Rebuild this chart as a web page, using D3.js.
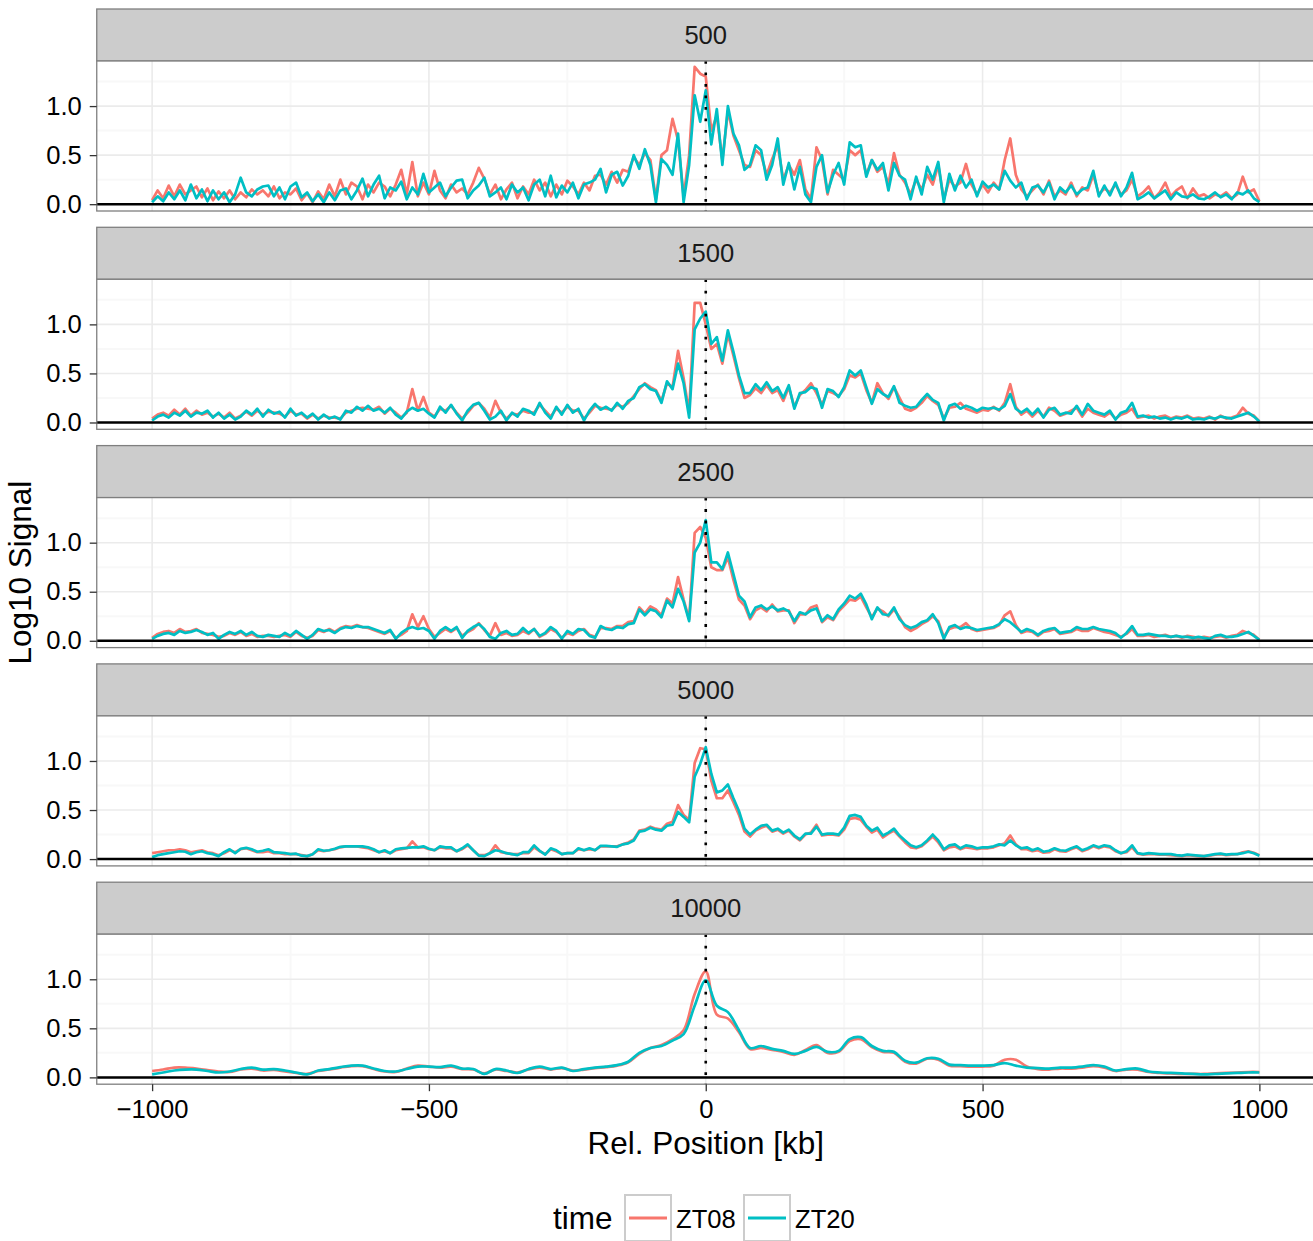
<!DOCTYPE html>
<html>
<head>
<meta charset="utf-8">
<script src="https://cdn.jsdelivr.net/npm/d3@7"></script>
<style>
  body { margin: 0; background: #fff; }
  text { font-family: "Liberation Sans", Arial, sans-serif; }
</style>
</head>
<body>
<div id="chart"></div>
<script>
// facet labels (window size) and bin step of each facet, kb
const facets = ["500", "1500", "2500", "5000", "10000"];
const binStep = [10, 10, 10, 10, 20];
const seriesNames = ["ZT08", "ZT20"];
const xTicks = [-1000, -500, 0, 500, 1000];
const yTicks = [0, 0.5, 1.0];

// log10 signal, 10 kb bins from -1000 to 1000
const sig500_ZT08 = [
  .04,.14,.06,.19,.08,.20,.10,.14,.18,.07,
  .16,.04,.13,.06,.14,.05,.12,.07,.15,.10,
  .14,.08,.18,.06,.12,.10,.16,.04,.11,.02,
  .13,.05,.20,.08,.25,.10,.22,.18,.05,.20,
  .12,.22,.18,.08,.20,.35,.10,.43,.08,.22,
  .10,.34,.14,.06,.20,.12,.16,.10,.22,.37,
  .26,.10,.20,.05,.15,.22,.06,.18,.10,.25,
  .14,.22,.08,.20,.10,.24,.18,.10,.22,.14,
  .29,.30,.20,.33,.22,.35,.33,.48,.40,.52,
  .45,.05,.50,.55,.87,.65,.08,.50,1.40,1.33,
  1.30,.75,.90,.45,.95,.70,.55,.40,.38,.55,
  .50,.30,.46,.60,.25,.40,.30,.45,.15,.05,
  .58,.45,.10,.35,.30,.25,.55,.50,.55,.30,
  .45,.33,.38,.20,.52,.30,.22,.10,.25,.15,
  .30,.20,.40,.05,.25,.18,.22,.41,.20,.10,
  .20,.12,.22,.15,.45,.67,.30,.15,.08,.14,
  .20,.10,.24,.08,.14,.10,.22,.08,.17,.14,
  .30,.10,.16,.12,.20,.10,.14,.25,.08,.12,
  .18,.06,.12,.22,.08,.14,.18,.06,.16,.08,
  .10,.06,.10,.08,.12,.06,.10,.28,.12,.15,
  .03
];
const sig500_ZT20 = [
  .02,.08,.03,.12,.05,.14,.04,.20,.06,.15,
  .03,.14,.05,.12,.02,.10,.27,.12,.08,.15,
  .18,.19,.08,.17,.05,.18,.22,.07,.12,.03,
  .10,.02,.12,.04,.14,.16,.05,.14,.26,.08,
  .20,.29,.06,.17,.14,.23,.05,.17,.10,.31,
  .12,.17,.22,.08,.17,.24,.25,.06,.14,.19,
  .27,.08,.12,.17,.05,.20,.12,.17,.04,.20,
  .25,.08,.29,.07,.19,.12,.22,.06,.20,.22,
  .25,.36,.12,.30,.33,.19,.29,.50,.36,.56,
  .40,.02,.46,.40,.30,.72,.02,.40,1.11,.84,
  1.16,.61,.97,.40,1.00,.72,.60,.35,.40,.60,
  .55,.25,.40,.67,.20,.42,.15,.38,.10,.02,
  .38,.50,.12,.30,.42,.20,.63,.58,.60,.28,
  .45,.35,.42,.14,.42,.29,.25,.05,.28,.10,
  .38,.25,.43,.02,.31,.14,.29,.17,.25,.08,
  .23,.17,.20,.15,.34,.24,.17,.22,.05,.17,
  .19,.12,.22,.05,.17,.12,.19,.10,.15,.17,
  .34,.08,.19,.09,.22,.08,.17,.32,.05,.08,
  .12,.06,.10,.14,.05,.12,.08,.07,.10,.06,
  .05,.08,.12,.07,.10,.05,.12,.10,.14,.06,
  .02
];
const sig1500_ZT08 = [
  .04,.08,.10,.07,.13,.08,.14,.07,.12,.08,
  .10,.06,.09,.05,.10,.04,.07,.11,.07,.12,
  .08,.11,.10,.09,.06,.12,.08,.09,.04,.08,
  .04,.07,.05,.05,.04,.10,.12,.14,.15,.14,
  .13,.16,.09,.14,.10,.05,.10,.34,.12,.26,
  .10,.06,.14,.12,.17,.10,.04,.10,.17,.20,
  .14,.05,.22,.10,.04,.09,.08,.12,.10,.10,
  .18,.12,.06,.14,.10,.16,.12,.12,.04,.10,
  .17,.15,.14,.13,.18,.16,.20,.27,.34,.40,
  .36,.33,.22,.40,.36,.73,.45,.10,1.22,1.22,
  1.00,.75,.80,.60,.90,.68,.45,.25,.28,.35,
  .30,.38,.30,.33,.22,.36,.16,.28,.33,.40,
  .30,.18,.32,.30,.27,.34,.48,.46,.50,.33,
  .20,.40,.30,.24,.36,.25,.14,.12,.15,.20,
  .27,.22,.18,.04,.15,.16,.20,.14,.12,.10,
  .13,.12,.16,.12,.20,.39,.16,.08,.12,.06,
  .12,.06,.15,.12,.07,.09,.12,.15,.06,.14,
  .10,.08,.06,.10,.04,.08,.10,.14,.05,.06,
  .07,.04,.06,.07,.04,.06,.05,.07,.04,.05,
  .04,.06,.03,.07,.04,.05,.07,.15,.09,.07,
  .01
];
const sig1500_ZT20 = [
  .02,.06,.08,.05,.10,.07,.12,.06,.10,.09,
  .12,.05,.10,.04,.08,.03,.06,.12,.08,.14,
  .06,.13,.09,.11,.05,.14,.07,.10,.05,.09,
  .03,.08,.04,.06,.03,.12,.10,.16,.12,.17,
  .12,.14,.10,.15,.08,.04,.11,.15,.12,.14,
  .09,.05,.16,.10,.18,.09,.02,.12,.18,.20,
  .12,.03,.06,.12,.02,.10,.06,.14,.12,.08,
  .20,.10,.04,.16,.08,.18,.10,.14,.02,.12,
  .19,.13,.16,.12,.20,.14,.22,.25,.36,.39,
  .34,.32,.20,.42,.34,.60,.40,.05,.95,1.06,
  1.13,.80,.87,.63,.94,.72,.48,.30,.30,.39,
  .33,.41,.32,.36,.25,.38,.14,.30,.31,.36,
  .34,.15,.34,.32,.26,.36,.53,.48,.53,.36,
  .19,.34,.29,.26,.37,.20,.17,.15,.16,.23,
  .29,.23,.20,.02,.17,.19,.14,.17,.15,.12,
  .15,.14,.15,.13,.17,.29,.14,.10,.14,.08,
  .14,.05,.13,.15,.08,.10,.09,.17,.08,.19,
  .12,.10,.08,.12,.03,.10,.12,.20,.06,.07,
  .05,.06,.04,.05,.03,.05,.04,.06,.03,.04,
  .03,.05,.04,.06,.05,.04,.06,.08,.10,.06,
  .01
];
const sig2500_ZT08 = [
  .03,.07,.09,.10,.08,.12,.09,.10,.12,.08,
  .07,.06,.04,.05,.08,.06,.09,.05,.07,.04,
  .05,.05,.04,.05,.06,.04,.09,.05,.03,.05,
  .11,.09,.12,.09,.13,.15,.14,.16,.14,.13,
  .11,.09,.07,.10,.03,.06,.10,.27,.14,.25,
  .12,.04,.08,.12,.09,.13,.05,.09,.12,.18,
  .11,.05,.18,.06,.08,.05,.06,.10,.07,.12,
  .04,.07,.12,.09,.03,.08,.06,.10,.12,.06,
  .04,.13,.13,.12,.15,.15,.19,.20,.34,.28,
  .35,.32,.26,.43,.38,.65,.42,.22,1.10,1.16,
  1.05,.75,.72,.72,.85,.62,.42,.36,.22,.31,
  .34,.30,.37,.30,.31,.31,.18,.27,.27,.34,
  .36,.19,.24,.21,.30,.36,.42,.41,.45,.34,
  .24,.33,.30,.25,.32,.24,.14,.10,.13,.17,
  .20,.25,.20,.04,.12,.14,.14,.18,.12,.10,
  .11,.12,.13,.16,.26,.30,.16,.08,.10,.09,
  .05,.09,.10,.12,.07,.08,.09,.12,.10,.10,
  .13,.11,.09,.08,.06,.04,.07,.12,.05,.05,
  .06,.04,.05,.06,.04,.05,.03,.05,.04,.03,
  .04,.03,.04,.05,.03,.05,.06,.10,.08,.06,
  .01
];
const sig2500_ZT20 = [
  .02,.05,.07,.08,.06,.10,.08,.09,.11,.09,
  .06,.08,.02,.06,.09,.07,.10,.06,.09,.05,
  .04,.06,.05,.04,.08,.05,.10,.06,.02,.06,
  .12,.10,.11,.08,.12,.14,.13,.15,.14,.14,
  .12,.10,.08,.11,.02,.08,.12,.14,.12,.13,
  .10,.02,.10,.14,.10,.14,.03,.10,.14,.17,
  .12,.04,.02,.08,.10,.06,.07,.13,.08,.12,
  .05,.08,.14,.10,.02,.10,.07,.12,.11,.05,
  .03,.15,.12,.11,.14,.13,.17,.18,.32,.26,
  .32,.30,.24,.41,.34,.53,.40,.20,.90,1.00,
  1.23,.80,.80,.73,.90,.68,.46,.40,.24,.34,
  .36,.32,.35,.31,.33,.30,.20,.29,.27,.31,
  .33,.20,.26,.22,.32,.38,.46,.43,.48,.37,
  .22,.34,.27,.26,.34,.22,.16,.13,.15,.19,
  .21,.27,.18,.02,.14,.16,.12,.14,.13,.11,
  .12,.13,.14,.17,.22,.19,.14,.09,.12,.10,
  .06,.10,.12,.13,.08,.09,.10,.14,.12,.12,
  .14,.12,.11,.10,.08,.03,.08,.15,.06,.06,
  .07,.06,.05,.05,.04,.05,.04,.04,.03,.04,
  .03,.02,.05,.06,.04,.04,.05,.07,.09,.05,
  .01
];
const sig5000_ZT08 = [
  .06,.07,.08,.09,.09,.10,.09,.07,.08,.09,
  .07,.06,.04,.06,.09,.07,.10,.11,.09,.07,
  .07,.08,.06,.06,.05,.05,.05,.04,.03,.05,
  .09,.08,.09,.10,.12,.13,.13,.13,.12,.11,
  .09,.07,.08,.06,.09,.10,.11,.18,.12,.12,
  .10,.09,.12,.11,.11,.08,.10,.14,.09,.04,
  .04,.06,.14,.07,.06,.05,.05,.06,.06,.12,
  .08,.05,.10,.08,.05,.06,.06,.10,.09,.10,
  .09,.13,.13,.13,.13,.15,.17,.20,.29,.30,
  .33,.31,.30,.36,.38,.55,.45,.40,.98,1.13,
  1.12,.80,.62,.62,.70,.58,.45,.28,.23,.29,
  .32,.34,.28,.30,.26,.29,.23,.19,.25,.27,
  .35,.24,.25,.25,.24,.30,.41,.42,.40,.33,
  .27,.30,.22,.26,.29,.23,.17,.12,.11,.13,
  .18,.23,.17,.09,.12,.13,.10,.12,.11,.10,
  .11,.11,.12,.14,.16,.24,.15,.10,.10,.08,
  .09,.065,.07,.10,.08,.075,.10,.12,.08,.10,
  .13,.11,.13,.12,.08,.06,.07,.12,.055,.045,
  .05,.05,.045,.045,.04,.035,.03,.04,.035,.03,
  .03,.035,.045,.05,.04,.045,.05,.07,.08,.065,
  .04
];
const sig5000_ZT20 = [
  .02,.04,.05,.06,.07,.08,.075,.05,.07,.08,
  .06,.05,.03,.07,.10,.06,.105,.115,.10,.075,
  .085,.10,.07,.065,.06,.05,.055,.035,.03,.05,
  .10,.085,.09,.105,.125,.13,.13,.13,.13,.12,
  .10,.07,.09,.06,.10,.11,.115,.12,.12,.13,
  .105,.09,.13,.12,.12,.08,.11,.15,.09,.035,
  .03,.06,.09,.08,.06,.05,.04,.07,.07,.14,
  .085,.045,.11,.09,.05,.06,.06,.11,.09,.11,
  .09,.135,.135,.13,.125,.15,.16,.19,.28,.29,
  .32,.30,.29,.34,.35,.48,.43,.375,.84,.97,
  1.14,.87,.68,.70,.76,.62,.49,.31,.25,.30,
  .34,.35,.29,.31,.27,.30,.24,.20,.26,.26,
  .33,.25,.26,.26,.25,.32,.44,.45,.43,.34,
  .29,.32,.24,.27,.31,.24,.19,.14,.12,.14,
  .19,.25,.19,.10,.14,.15,.11,.14,.13,.11,
  .12,.12,.13,.15,.14,.19,.14,.11,.12,.09,
  .11,.075,.085,.11,.09,.085,.11,.13,.09,.11,
  .14,.12,.14,.13,.09,.06,.08,.14,.06,.05,
  .06,.055,.05,.05,.05,.04,.035,.045,.04,.035,
  .03,.04,.05,.055,.045,.05,.05,.06,.075,.06,
  .035
];
// 20 kb bins
const sig10000_ZT08 = [
  .065,.08,.10,.10,.09,.075,.06,.055,.08,.09,
  .07,.075,.06,.045,.035,.065,.08,.10,.115,.115,
  .085,.06,.055,.09,.12,.11,.10,.11,.085,.08,
  .04,.08,.065,.05,.08,.10,.08,.095,.07,.08,
  .095,.105,.12,.155,.24,.30,.33,.39,.48,.85,
  1.08,.64,.60,.46,.29,.30,.28,.26,.23,.28,
  .33,.25,.26,.37,.39,.31,.26,.25,.16,.14,
  .19,.18,.12,.115,.11,.11,.12,.18,.18,.11,
  .085,.08,.09,.09,.10,.115,.10,.065,.08,.08,
  .055,.045,.04,.035,.035,.035,.04,.045,.05,.055,
  .055
];
const sig10000_ZT20 = [
  .03,.05,.07,.08,.08,.065,.05,.06,.085,.10,
  .08,.085,.07,.05,.03,.07,.085,.105,.12,.12,
  .09,.065,.06,.085,.11,.11,.105,.12,.09,.085,
  .035,.085,.07,.045,.085,.11,.085,.10,.065,.085,
  .10,.11,.125,.16,.25,.30,.32,.375,.44,.73,
  .99,.73,.665,.48,.30,.32,.29,.27,.24,.27,
  .31,.26,.27,.39,.41,.32,.27,.26,.17,.15,
  .195,.19,.13,.125,.12,.12,.125,.145,.12,.10,
  .095,.09,.10,.10,.11,.125,.11,.07,.085,.09,
  .06,.05,.045,.04,.035,.03,.035,.04,.045,.05,
  .05
];

const signalZT08 = [sig500_ZT08, sig1500_ZT08, sig2500_ZT08, sig5000_ZT08, sig10000_ZT08];
const signalZT20 = [sig500_ZT20, sig1500_ZT20, sig2500_ZT20, sig5000_ZT20, sig10000_ZT20];
const colors = {ZT08: "#F8766D", ZT20: "#00BFC4"};

// layout
const width = 1313, height = 1241;
const left = 96.75, right = 1314.75;
const firstTop = 61, facetGap = 218.3, stripH = 52, plotH = 150;

const svg = d3.select("#chart").append("svg")
    .attr("width", width)
    .attr("height", height);

const x = d3.scaleLinear().domain([-1100, 1100]).range([left, right]);

facets.forEach(function(f, i) {
  const top = firstTop + i * facetGap;
  const y = d3.scaleLinear().domain([-0.0695, 1.4595]).range([top + plotH, top]);
  const g = svg.append("g");

  // strip
  g.append("rect")
    .attr("x", left).attr("y", top - stripH)
    .attr("width", right - left).attr("height", stripH)
    .attr("fill", "#cccccc").attr("stroke", "#7f7f7f").attr("stroke-width", 1.3);
  g.append("text")
    .attr("x", (left + right) / 2).attr("y", top - stripH / 2 + 9)
    .attr("text-anchor", "middle")
    .attr("font-size", 25.6).attr("fill", "#1a1a1a")
    .text(f);

  // panel background + grid
  g.append("rect")
    .attr("x", left).attr("y", top).attr("width", right - left).attr("height", plotH)
    .attr("fill", "#fff");

  const minorY = [0.25, 0.75, 1.25], minorX = [-750, -250, 250, 750];
  g.selectAll(".minY").data(minorY).enter().append("line")
    .attr("x1", left).attr("x2", right)
    .attr("y1", d => y(d)).attr("y2", d => y(d))
    .attr("stroke", "#f8f8f8").attr("stroke-width", 2);
  g.selectAll(".minX").data(minorX).enter().append("line")
    .attr("x1", d => x(d)).attr("x2", d => x(d))
    .attr("y1", top).attr("y2", top + plotH)
    .attr("stroke", "#f8f8f8").attr("stroke-width", 2);
  g.selectAll(".majY").data(yTicks).enter().append("line")
    .attr("x1", left).attr("x2", right)
    .attr("y1", d => y(d)).attr("y2", d => y(d))
    .attr("stroke", "#ebebeb").attr("stroke-width", 1.6);
  g.selectAll(".majX").data(xTicks).enter().append("line")
    .attr("x1", d => x(d)).attr("x2", d => x(d))
    .attr("y1", top).attr("y2", top + plotH)
    .attr("stroke", "#ebebeb").attr("stroke-width", 1.6);

  // clip
  const clipId = "clip" + i;
  svg.append("clipPath").attr("id", clipId).append("rect")
    .attr("x", left).attr("y", top).attr("width", right - left).attr("height", plotH);

  const line = d3.line()
    .x(function(d, j) { return x(-1000 + j * binStep[i]); })
    .y(function(d) { return y(d); });
  if (binStep[i] > 10) line.curve(d3.curveCatmullRom.alpha(0.5));

  const plot = g.append("g").attr("clip-path", "url(#" + clipId + ")");
  [signalZT08[i], signalZT20[i]].forEach(function(vals, k) {
    plot.append("path")
      .datum(vals)
      .attr("fill", "none")
      .attr("stroke", colors[seriesNames[k]])
      .attr("stroke-width", 2.7)
      .attr("stroke-linejoin", "round")
      .attr("d", line);
  });

  // reference lines
  plot.append("line")
    .attr("x1", left).attr("x2", right)
    .attr("y1", y(0)).attr("y2", y(0))
    .attr("stroke", "#000").attr("stroke-width", 2.5);
  plot.append("line")
    .attr("x1", x(0)).attr("x2", x(0))
    .attr("y1", top).attr("y2", top + plotH)
    .attr("stroke", "#000").attr("stroke-width", 2.6)
    .attr("stroke-dasharray", "2.8,8.7");

  // border
  g.append("rect")
    .attr("x", left).attr("y", top).attr("width", right - left).attr("height", plotH)
    .attr("fill", "none").attr("stroke", "#7f7f7f").attr("stroke-width", 1.3);

  // y axis
  const ya = g.append("g")
    .attr("transform", "translate(" + left + ",0)")
    .call(d3.axisLeft(y).tickValues(yTicks).tickFormat(d3.format(".1f")).tickSize(7).tickPadding(8));
  ya.select(".domain").remove();
  ya.selectAll("line").attr("stroke", "#333").attr("stroke-width", 1.3);
  ya.selectAll("text").attr("font-size", 25.6).attr("fill", "#000")
    .attr("font-family", "Liberation Sans, Arial, sans-serif");

  if (i === facets.length - 1) {
    const xa = g.append("g")
      .attr("transform", "translate(0," + (top + plotH) + ")")
      .call(d3.axisBottom(x).tickValues(xTicks).tickFormat(d3.format("d")).tickSize(7).tickPadding(9));
    xa.select(".domain").remove();
    xa.selectAll("line").attr("stroke", "#333").attr("stroke-width", 1.3);
    xa.selectAll("text").attr("font-size", 25.6).attr("fill", "#000")
      .attr("font-family", "Liberation Sans, Arial, sans-serif");
  }
});

// axis titles
svg.append("text")
  .attr("x", (left + right) / 2).attr("y", 1154)
  .attr("text-anchor", "middle").attr("font-size", 31.5)
  .text("Rel. Position [kb]");
svg.append("text")
  .attr("transform", "translate(31," + (firstTop + (firstTop + 4 * facetGap + plotH)) / 2 + ") rotate(-90)")
  .attr("text-anchor", "middle").attr("font-size", 31.5)
  .text("Log10 Signal");

// legend
const legend = svg.append("g");
legend.append("text")
  .attr("x", 553).attr("y", 1229)
  .attr("font-size", 31.5)
  .text("time");
seriesNames.forEach(function(name, k) {
  const kx = 625 + k * 119;
  legend.append("rect")
    .attr("x", kx).attr("y", 1195).attr("width", 46).attr("height", 46)
    .attr("fill", "#fff").attr("stroke", "#cccccc").attr("stroke-width", 2);
  legend.append("line")
    .attr("x1", kx + 4).attr("x2", kx + 42)
    .attr("y1", 1218).attr("y2", 1218)
    .attr("stroke", colors[name]).attr("stroke-width", 2.8);
  legend.append("text")
    .attr("x", kx + 51).attr("y", 1227.5)
    .attr("font-size", 25.6)
    .text(name);
});
</script>
</body>
</html>
